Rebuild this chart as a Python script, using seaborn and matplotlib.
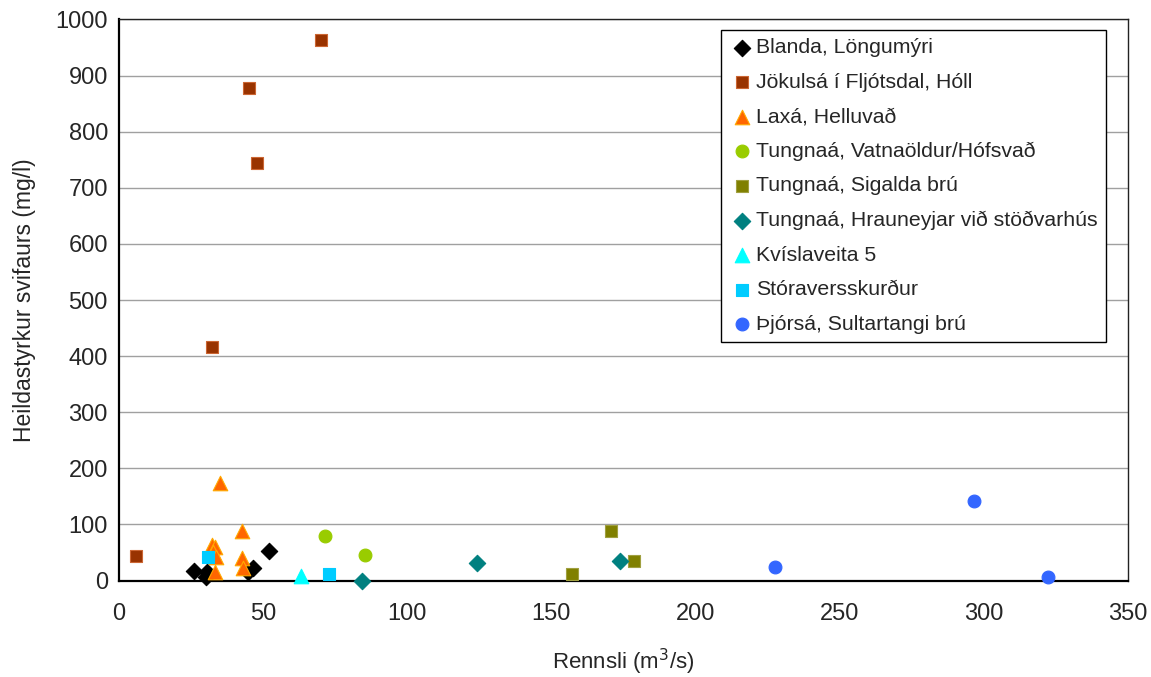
import pandas as pd
import matplotlib
matplotlib.use("Agg")
import matplotlib.pyplot as plt
import seaborn as sns

# Gögn lesin af myndinni: rennsli (m3/s) og heildastyrkur svifaurs (mg/l)
blanda_x = [26, 30.5, 30.3, 44.7, 46.5, 52.2]
blanda_y = [17, 16, 6, 16, 22, 53]

jokulsa_x = [6, 32.4, 45, 48, 70.2]
jokulsa_y = [43, 416, 878, 745, 963]

laxa_x = [35, 42.5, 32.1, 33.2, 32.6, 33.6, 33.2, 42.8, 43]
laxa_y = [174, 89, 63, 60, 51, 42, 16, 40, 22]

vatnaoldur_x = [71.6, 85.5]
vatnaoldur_y = [80, 45]

sigalda_x = [157, 170.5, 178.6]
sigalda_y = [12, 88, 35]

hrauneyjar_x = [84.2, 124.3, 173.7]
hrauneyjar_y = [0, 31, 34]

kvislaveita_x = [63]
kvislaveita_y = [8]

storaverss_x = [30.9, 72.7]
storaverss_y = [42, 12]

thjorsa_x = [227.6, 296.7, 322.4]
thjorsa_y = [24, 141, 6]

series = [
    ("Blanda, Löngumýri", blanda_x, blanda_y, "D", "#000000", "#000000", 70),
    ("Jökulsá í Fljótsdal, Hóll", jokulsa_x, jokulsa_y, "s", "#993300", "#cc6633", 80),
    ("Laxá, Helluvað", laxa_x, laxa_y, "^", "#ff6600", "#ffaa00", 110),
    ("Tungnaá, Vatnaöldur/Hófsvað", vatnaoldur_x, vatnaoldur_y, "o", "#99cc00", "#99cc00", 85),
    ("Tungnaá, Sigalda brú", sigalda_x, sigalda_y, "s", "#808000", "#a0a040", 80),
    ("Tungnaá, Hrauneyjar við stöðvarhús", hrauneyjar_x, hrauneyjar_y, "D", "#008080", "#008080", 70),
    ("Kvíslaveita 5", kvislaveita_x, kvislaveita_y, "^", "#00ffff", "#00ffff", 110),
    ("Stóraversskurður", storaverss_x, storaverss_y, "s", "#00ccff", "#00ccff", 80),
    ("Þjórsá, Sultartangi brú", thjorsa_x, thjorsa_y, "o", "#3366ff", "#3366ff", 85),
]

sns.set_style("white")
plt.rcParams['font.family'] = ['Liberation Sans', 'DejaVu Sans']

fig = plt.figure(figsize=(11.51, 6.77), dpi=100)
ax = fig.add_axes([0.1034, 0.1425, 0.8766, 0.8287])

for name, xs, ys, marker, color, edge, size in series:
    df = pd.DataFrame({"rennsli": xs, "styrkur": ys})
    sns.scatterplot(data=df, x="rennsli", y="styrkur", ax=ax, marker=marker,
                    color=color, edgecolor=edge, linewidth=0.8, s=size,
                    label=name, zorder=3, clip_on=False)

ax.set_xlim(0, 350)
ax.set_ylim(0, 1000)
ax.set_xticks(range(0, 351, 50))
ax.set_yticks(range(0, 1001, 100))
ax.yaxis.grid(True, color="#a0a0a0", linewidth=1)
ax.xaxis.grid(False)
ax.set_axisbelow(True)

for side in ["left", "bottom"]:
    ax.spines[side].set_color("black")
    ax.spines[side].set_linewidth(1.6)
for side in ["top", "right"]:
    ax.spines[side].set_color("#222222")
    ax.spines[side].set_linewidth(1.0)

ax.tick_params(axis="both", direction="out", length=5, width=1, color="black",
               labelsize=17)
ax.tick_params(axis="x", pad=11)
ax.tick_params(axis="y", pad=3)

ax.set_xlabel("Rennsli (m$^3$/s)", fontsize=16, labelpad=16)
ax.set_ylabel("Heildastyrkur svifaurs (mg/l)", fontsize=16.5, labelpad=14)

leg = ax.legend(loc="upper right", bbox_to_anchor=(0.978, 0.982), fontsize=15.3,
                frameon=True, fancybox=False, framealpha=1, edgecolor="black",
                handletextpad=0.05, handlelength=1.2, labelspacing=0.73,
                borderpad=0.4, borderaxespad=0)
leg.get_frame().set_linewidth(1.0)

plt.savefig("out.png", dpi=100)
plt.close()
